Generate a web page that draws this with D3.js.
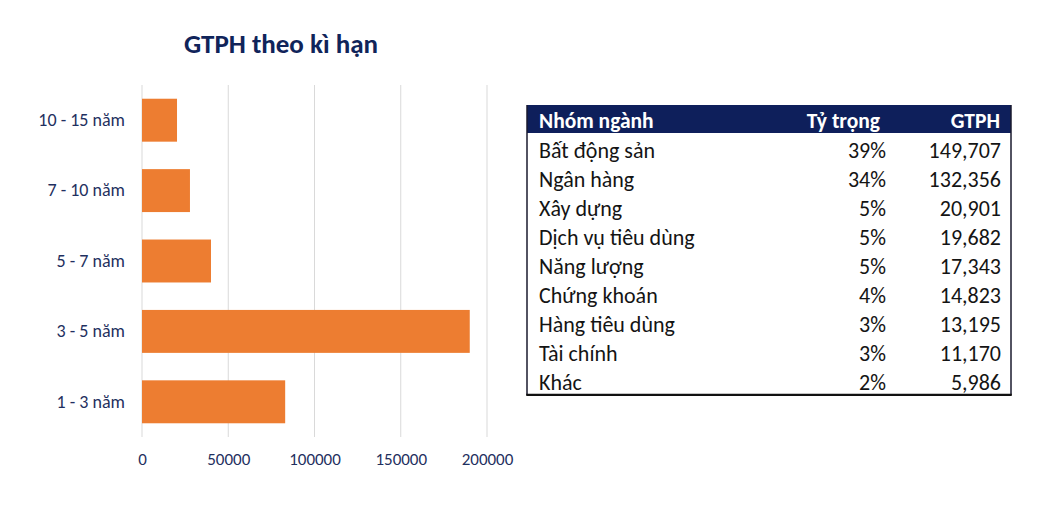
<!DOCTYPE html>
<html>
<head>
<meta charset="utf-8">
<script src="https://cdn.jsdelivr.net/npm/d3@7"></script>
<style>
  html, body { margin: 0; padding: 0; background: #fff; }
  svg { display: block; }
</style>
</head>
<body>
<svg id="chart" width="1040" height="505"></svg>
<script>
// bar chart data (GTPH theo kì hạn)
const terms = ["10 - 15 năm", "7 - 10 năm", "5 - 7 năm", "3 - 5 năm", "1 - 3 năm"];
const termValues = [20300, 27800, 40000, 190000, 83000];
const xTicks = [0, 50000, 100000, 150000, 200000];

// table data
const tableHeader = ["Nhóm ngành", "Tỷ trọng", "GTPH"];
const sectors = ["Bất động sản", "Ngân hàng", "Xây dựng", "Dịch vụ tiêu dùng", "Năng lượng",
  "Chứng khoán", "Hàng tiêu dùng", "Tài chính", "Khác"];
const shares = ["39%", "34%", "5%", "5%", "5%", "4%", "3%", "3%", "2%"];
const issued = [149707, 132356, 20901, 19682, 17343, 14823, 13195, 11170, 5986];

const svg = d3.select("#chart");
const font = "Carlito, Lato, 'Open Sans', sans-serif";
const labelColor = "#1f3060";

// ---- title ----
svg.append("text")
  .attr("x", 281).attr("y", 53)
  .attr("text-anchor", "middle")
  .style("font", `bold 27px ${font}`)
  .attr("fill", "#10245a")
  .text("GTPH theo kì hạn");

// ---- bar chart ----
const plot = { left: 142, right: 487, top: 85, bottom: 437 };
const x = d3.scaleLinear().domain([0, 200000]).range([plot.left, plot.right]);
const y = d3.scaleBand().domain(terms).range([plot.top, plot.bottom]).paddingInner(0.39).paddingOuter(0.195);

const g = svg.append("g");

g.append("g").selectAll("line")
  .data(xTicks)
  .join("line")
  .attr("x1", d => x(d)).attr("x2", d => x(d))
  .attr("y1", plot.top).attr("y2", plot.bottom)
  .attr("stroke", "#d9d9d9")
  .attr("stroke-width", 1);

g.append("g").selectAll("rect")
  .data(terms)
  .join("rect")
  .attr("x", x(0))
  .attr("y", d => y(d))
  .attr("width", (d, i) => x(termValues[i]) - x(0))
  .attr("height", y.bandwidth())
  .attr("fill", "#ed7d31");

const xAxis = g.append("g")
  .attr("transform", `translate(0,${plot.bottom})`)
  .call(d3.axisBottom(x).tickValues(xTicks).tickFormat(d3.format("d")).tickSize(0).tickPadding(16));
xAxis.select(".domain").remove();
xAxis.selectAll("text").style("font", `17px ${font}`).attr("fill", labelColor);

const yAxis = g.append("g")
  .attr("transform", `translate(${plot.left},0)`)
  .call(d3.axisLeft(y).tickSize(0).tickPadding(17));
yAxis.select(".domain").remove();
yAxis.selectAll("text").style("font", `18px ${font}`).attr("fill", labelColor);

// ---- table ----
const tbl = { left: 527, right: 1011, top: 105, headH: 28, rowH: 29.1 };
const colRight = [null, 886, 1001];
const headRight = [null, 880, 1000];
const tg = svg.append("g");

tg.append("rect")
  .attr("x", tbl.left).attr("y", tbl.top)
  .attr("width", tbl.right - tbl.left).attr("height", tbl.headH)
  .attr("fill", "#0e1f5b");

tg.selectAll("text.head")
  .data(tableHeader)
  .join("text")
  .attr("class", "head")
  .attr("x", (d, i) => i === 0 ? tbl.left + 12 : headRight[i])
  .attr("y", tbl.top + 23)
  .attr("text-anchor", (d, i) => i === 0 ? "start" : "end")
  .style("font", `bold 21.5px ${font}`)
  .attr("fill", "#fff")
  .text(d => d);

const fmt = d3.format(",");
const rows = tg.selectAll("g.row")
  .data(sectors)
  .join("g")
  .attr("class", "row")
  .attr("transform", (d, i) => `translate(0,${tbl.top + tbl.headH + i * tbl.rowH})`);

const cellFont = `22px ${font}`;
rows.append("text")
  .attr("x", tbl.left + 12).attr("y", 24.5)
  .style("font", cellFont).attr("fill", "#141414")
  .text(d => d);
rows.append("text")
  .attr("x", colRight[1]).attr("y", 24.5).attr("text-anchor", "end")
  .style("font", cellFont).attr("fill", "#141414")
  .text((d, i) => shares[i]);
rows.append("text")
  .attr("x", colRight[2]).attr("y", 24.5).attr("text-anchor", "end")
  .style("font", cellFont).attr("fill", "#141414")
  .text((d, i) => fmt(issued[i]));

const tblBottom = tbl.top + tbl.headH + sectors.length * tbl.rowH;
tg.append("line")
  .attr("x1", tbl.left).attr("x2", tbl.left)
  .attr("y1", tbl.top).attr("y2", tblBottom)
  .attr("stroke", "#1a1a2e").attr("stroke-width", 1.5);
tg.append("line")
  .attr("x1", tbl.right).attr("x2", tbl.right)
  .attr("y1", tbl.top).attr("y2", tblBottom)
  .attr("stroke", "#1a1a2e").attr("stroke-width", 1.5);
tg.append("line")
  .attr("x1", tbl.left - 0.75).attr("x2", tbl.right + 0.75)
  .attr("y1", tblBottom).attr("y2", tblBottom)
  .attr("stroke", "#111").attr("stroke-width", 2.2);
</script>
</body>
</html>
